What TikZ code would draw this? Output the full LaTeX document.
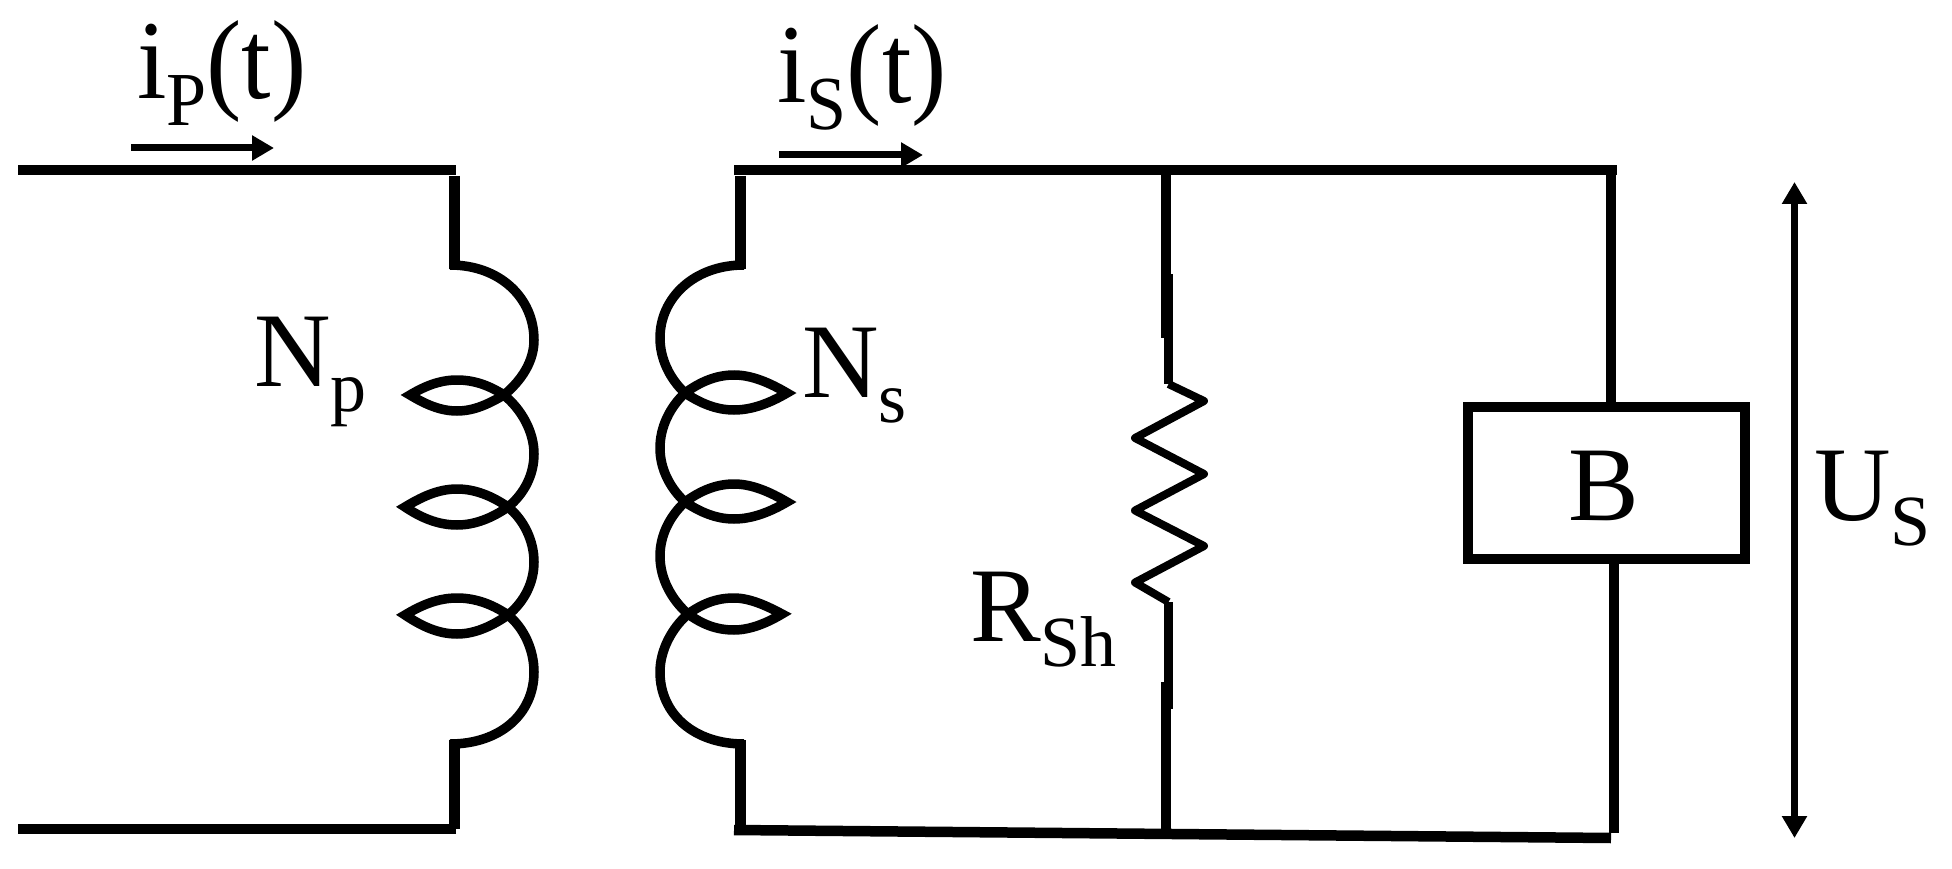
\documentclass[tikz,border=0pt]{standalone}
\usepackage{fontspec}
\setmainfont{Liberation Serif}
\usetikzlibrary{arrows.meta}
\newcommand{\biglabel}{\fontsize{106}{106}\selectfont}
\newcommand{\sublabel}[1]{\raisebox{-25pt}{\fontsize{72}{72}\selectfont #1}}

\begin{document}
\begin{tikzpicture}[x=1pt, y=-1pt,
  wire/.style={line width=10.5pt},
  coil/.style={line width=9.5pt, line join=miter},
  res/.style={line width=8pt, line join=round},
  arr/.style={-{Triangle[length=22pt,width=24pt]}, line width=7pt},
  volt/.style={{Triangle[length=22pt,width=24pt]}-{Triangle[length=22pt,width=24pt]}, line width=7pt},
  lbl/.style={inner sep=0pt, anchor=base west, font=\biglabel}]
  \useasboundingbox (0,0) rectangle (1952,869);
  % Primary side
  \coordinate (pa) at (18,170);
  \coordinate (pb) at (456,170);
  \coordinate (pc) at (454,176);
  \coordinate (pd) at (454,269);
  \coordinate (pe) at (454,740);
  \coordinate (pf) at (454,829);
  \coordinate (pg) at (456,829);
  \coordinate (ph) at (18,829);
  \draw[wire] (pa) -- (pb);
  \draw[wire, line width=11pt] (pc) -- (pd);
  \draw[wire, line width=11pt] (pe) -- (pf);
  \draw[wire] (pg) -- (ph);
  % Primary winding
  \draw[coil] (450,265) .. controls (500,265) and (534,298) .. (534,340)
    .. controls (534,361) and (522,380) .. (504,395)
    .. controls (490,403) and (475,411) .. (457,411)
    .. controls (440,411) and (425,404) .. (410,395)
    .. controls (425,386) and (440,380) .. (457,380)
    .. controls (475,380) and (490,386) .. (504,395)
    .. controls (522,410) and (534,432) .. (534,454)
    .. controls (534,475) and (524,494) .. (508,507)
    .. controls (492,518) and (475,525) .. (457,525)
    .. controls (437,525) and (420,517) .. (405,507)
    .. controls (420,498) and (437,489) .. (457,489)
    .. controls (475,489) and (492,496) .. (508,507)
    .. controls (524,520) and (534,541) .. (534,562)
    .. controls (534,583) and (524,602) .. (508,615)
    .. controls (492,626) and (475,634) .. (457,634)
    .. controls (437,634) and (420,625) .. (405,615)
    .. controls (420,606) and (437,598) .. (457,598)
    .. controls (475,598) and (492,604) .. (508,615)
    .. controls (524,628) and (534,650) .. (534,672)
    .. controls (534,714) and (500,744) .. (450,744);
  % Secondary side
  \coordinate (sa) at (734,170);
  \coordinate (sb) at (740,176);
  \coordinate (sc) at (740,269);
  \coordinate (sd) at (740,740);
  \coordinate (se) at (740,829);
  \coordinate (sf) at (734,830);
  \coordinate (sg) at (1611,838);
  \coordinate (sh) at (1617,170);
  \draw[wire] (sa) -- (sh);
  \draw[wire, line width=11pt] (sb) -- (sc);
  \draw[wire, line width=11pt] (sd) -- (se);
  \draw[wire] (sf) -- (sg);
  % Secondary winding
  \draw[coil] (744,265) .. controls (694,265) and (660,298) .. (660,338)
    .. controls (660,359) and (670,379) .. (685,393)
    .. controls (700,403) and (716,410) .. (734,410)
    .. controls (752,410) and (770,403) .. (787,393)
    .. controls (770,383) and (752,375) .. (734,375)
    .. controls (716,375) and (700,382) .. (685,393)
    .. controls (670,407) and (660,427) .. (660,448)
    .. controls (660,469) and (670,488) .. (685,502)
    .. controls (700,512) and (716,519) .. (734,519)
    .. controls (752,519) and (770,512) .. (787,502)
    .. controls (770,492) and (752,484) .. (734,484)
    .. controls (716,484) and (700,491) .. (685,502)
    .. controls (670,516) and (660,535) .. (660,556)
    .. controls (660,579) and (672,600) .. (688,614)
    .. controls (702,624) and (716,630) .. (734,630)
    .. controls (750,630) and (767,623) .. (782,614)
    .. controls (767,606) and (750,598) .. (734,598)
    .. controls (716,598) and (702,604) .. (688,614)
    .. controls (672,628) and (660,650) .. (660,672)
    .. controls (660,714) and (694,744) .. (744,744);
  % Shunt resistor
  \coordinate (ra) at (1166,170);
  \coordinate (rb) at (1166,338);
  \coordinate (rc) at (1168.5,274);
  \coordinate (rd) at (1168.5,384);
  \coordinate (re) at (1168.5,602);
  \coordinate (rf) at (1168.5,709);
  \coordinate (rg) at (1166,682);
  \coordinate (rh) at (1166,833);
  \draw[wire, line width=9.5pt] (ra) -- (rb);
  \draw[wire, line width=9pt] (rc) -- (rd);
  \draw[res] (rd) -- (1204,401) -- (1135,438) -- (1204,474) -- (1135,510.5)
    -- (1204,546) -- (1135,582.5) -- (re);
  \draw[wire, line width=9pt] (re) -- (rf);
  \draw[wire, line width=9.5pt] (rg) -- (rh);
  % Load box
  \node[draw, line width=10pt, minimum width=277pt, minimum height=152pt, inner sep=0pt,
    outer sep=0pt, anchor=north west] (load) at (1468,407) {};
  \node[lbl] (loadtxt) at (1568,520.5) {B};
  \coordinate (la) at (1611,170);
  \coordinate (lb) at (1614,833);
  \draw[wire, line width=9.5pt] (la) -- (la |- load.north);
  \draw[wire, line width=9.5pt] (lb |- load.south) -- (lb);
  % Current arrows
  \coordinate (ipa) at (131,148);
  \coordinate (ipb) at (274,148);
  \coordinate (isa) at (779,155);
  \coordinate (isb) at (923,155);
  \draw[arr] (ipa) -- (ipb);
  \draw[arr] (isa) -- (isb);
  % Voltage arrow
  \coordinate (ua) at (1794.5,182);
  \coordinate (ub) at (1794.5,838);
  \draw[volt] (ua) -- (ub);
  % Labels
  \node[lbl] (ip) at (137,99) {\scalebox{1}[1.06]{i\sublabel{P}(t)}};
  \node[lbl] (is) at (777,103) {\scalebox{1}[1.06]{i\sublabel{S}(t)}};
  \node[lbl] (np) at (254,386) {N\sublabel{p}};
  \node[lbl] (ns) at (802,397) {N\sublabel{s}};
  \node[lbl] (rsh) at (970,641) {R\sublabel{Sh}};
  \node[lbl] (us) at (1814,520) {U\sublabel{S}};
\end{tikzpicture}
\end{document}
